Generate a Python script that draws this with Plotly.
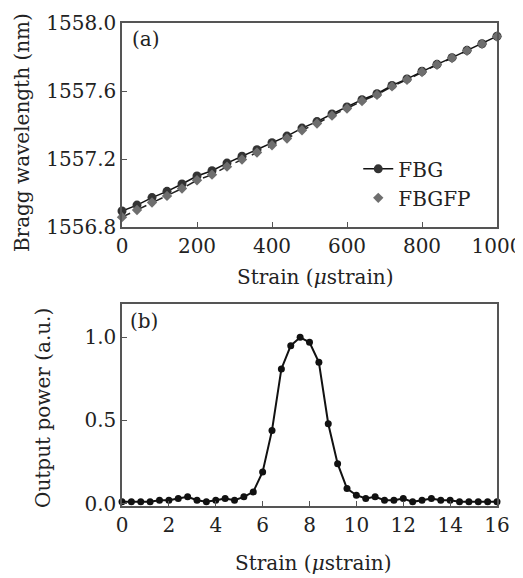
import plotly.graph_objects as go
from plotly.subplots import make_subplots

# Panel (a) data
strain_a = [0, 40, 80, 120, 160, 200, 240, 280, 320, 360, 400, 440, 480, 520,
            560, 600, 640, 680, 720, 760, 800, 840, 880, 920, 960, 1000]
fbg = [1556.894, 1556.929, 1556.973, 1557.010, 1557.053, 1557.100, 1557.131,
       1557.176, 1557.216, 1557.255, 1557.296, 1557.335, 1557.382, 1557.420,
       1557.465, 1557.506, 1557.549, 1557.584, 1557.633, 1557.671, 1557.716,
       1557.757, 1557.796, 1557.839, 1557.878, 1557.922]
fbgfp = [1556.858, 1556.900, 1556.944, 1556.983, 1557.027, 1557.075, 1557.108,
         1557.155, 1557.197, 1557.238, 1557.281, 1557.321, 1557.369, 1557.409,
         1557.455, 1557.497, 1557.541, 1557.577, 1557.627, 1557.666, 1557.712,
         1557.754, 1557.794, 1557.837, 1557.877, 1557.921]

# Panel (b) data
strain_b = [0.0, 0.4, 0.8, 1.2, 1.6, 2.0, 2.4, 2.8, 3.2, 3.6, 4.0, 4.4, 4.8,
            5.2, 5.6, 6.0, 6.4, 6.8, 7.2, 7.6, 8.0, 8.4, 8.8, 9.2, 9.6, 10.0,
            10.4, 10.8, 11.2, 11.6, 12.0, 12.4, 12.8, 13.2, 13.6, 14.0, 14.4,
            14.8, 15.2, 15.6, 16.0]
power = [0.01, 0.01, 0.01, 0.01, 0.02, 0.02, 0.03, 0.04, 0.02, 0.01, 0.02,
         0.03, 0.02, 0.04, 0.07, 0.19, 0.44, 0.81, 0.95, 1.0, 0.97, 0.85,
         0.48, 0.24, 0.09, 0.05, 0.03, 0.04, 0.02, 0.02, 0.03, 0.01, 0.02,
         0.03, 0.02, 0.02, 0.01, 0.01, 0.01, 0.01, 0.01]

FONT = "DejaVu Serif"
AX = "#555555"
FS = 20
NB = "\u00a0"
TXT = dict(family=FONT, size=FS, color="#222")

fig = make_subplots(rows=2, cols=1)

fig.add_trace(go.Scatter(x=strain_a, y=fbgfp, mode="lines", showlegend=False,
                         line=dict(color="#222", width=1.5, dash="dash"),
                         cliponaxis=False), row=1, col=1)
fig.add_trace(go.Scatter(x=strain_a, y=fbg, mode="lines+markers", name="FBG",
                         line=dict(color="#111", width=1.5),
                         marker=dict(symbol="circle", size=9, color="#333"),
                         cliponaxis=False), row=1, col=1)
fig.add_trace(go.Scatter(x=strain_a, y=fbgfp, mode="markers", name="FBGFP",
                         marker=dict(symbol="diamond", size=8, color="#6e6e6e"),
                         cliponaxis=False), row=1, col=1)
fig.add_trace(go.Scatter(x=strain_b, y=power, mode="lines+markers", showlegend=False,
                         line=dict(color="#111", width=2),
                         marker=dict(symbol="circle", size=7, color="#111"),
                         cliponaxis=False), row=2, col=1)

axis_common = dict(showline=True, linecolor=AX, linewidth=1.5, mirror=True,
                   ticks="inside", ticklen=5, tickcolor=AX, showgrid=False,
                   zeroline=False, automargin=False, ticklabeloverflow="allow",
                   tickfont=TXT)

fig.update_xaxes(**axis_common)
fig.update_yaxes(**axis_common)

fig.update_xaxes(range=[0, 1000], tickvals=[0, 200, 400, 600, 800, 1000],
                 domain=[0, 1], row=1, col=1)
fig.update_yaxes(range=[1556.8, 1558.0], tickvals=[1556.8, 1557.2, 1557.6, 1558.0],
                 tickformat=".1f", ticksuffix=NB, domain=[0.5776, 1.0], row=1, col=1)
fig.update_xaxes(range=[0, 16], tickvals=list(range(0, 17, 2)), domain=[0, 1],
                 row=2, col=1)
fig.update_yaxes(range=[-0.015, 1.2], tickvals=[0.0, 0.5, 1.0], tickformat=".1f",
                 ticksuffix=NB + NB, domain=[0.0, 0.418], row=2, col=1)

# Axis titles as annotations (paper coordinates)
fig.add_annotation(x=0, y=0.772, xref="paper", yref="paper", xshift=-100,
                   text="Bragg wavelength (nm)", textangle=-90, showarrow=False,
                   xanchor="center", yanchor="middle", font=TXT)
fig.add_annotation(x=0, y=0.203, xref="paper", yref="paper", xshift=-79,
                   text="Output power (a.u.)", textangle=-90, showarrow=False,
                   xanchor="center", yanchor="middle", font=TXT)
fig.add_annotation(x=0.5, y=0.474, xref="paper", yref="paper", xshift=6,
                   text="Strain (<i>μ</i>strain)", showarrow=False,
                   xanchor="center", yanchor="middle", font=TXT)
fig.add_annotation(x=0.5, y=-0.118, xref="paper", yref="paper", xshift=4,
                   text="Strain (<i>μ</i>strain)", showarrow=False,
                   xanchor="center", yanchor="middle", font=TXT)

fig.add_annotation(x=0.02, y=0.995, xref="paper", yref="paper", text="(a)",
                   showarrow=False, xanchor="left", yanchor="top", font=TXT)
fig.add_annotation(x=0.015, y=0.412, xref="paper", yref="paper", text="(b)",
                   showarrow=False, xanchor="left", yanchor="top", font=TXT)

fig.update_layout(
    width=515, height=570,
    margin=dict(l=114, r=26, t=15, b=72),
    paper_bgcolor="white", plot_bgcolor="white",
    font=TXT,
    legend=dict(x=0.63, y=0.668, xanchor="left", yanchor="middle",
                bgcolor="rgba(0,0,0,0)", font=TXT,
                tracegroupgap=0, itemwidth=30),
)

fig.write_html("out.html")
